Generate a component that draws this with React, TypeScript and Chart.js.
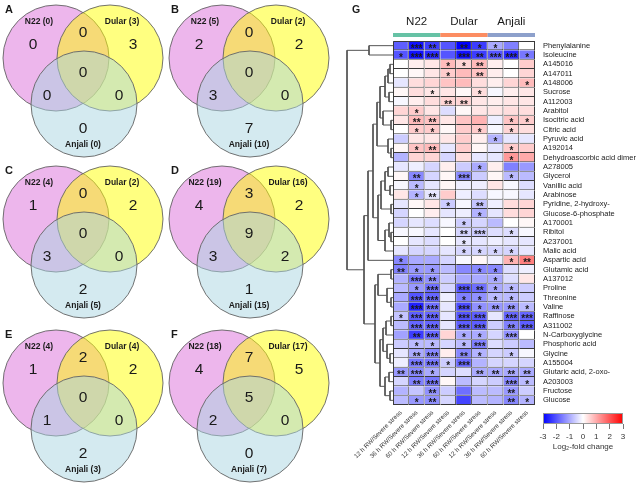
import React, { useEffect, useRef } from 'react';
import { Chart, registerables } from 'chart.js';

Chart.register(...registerables);

const FONT = '"Liberation Sans", Arial, Helvetica, sans-serif';
Chart.defaults.font.family = FONT;

// ---------------- Venn data ----------------
const vennLetters = ['A', 'B', 'C', 'D', 'E', 'F'];
const vennSets = ['N22', 'Dular', 'Anjali'];
const vennTotals = [
  [0, 3, 0],
  [5, 2, 10],
  [4, 2, 5],
  [19, 16, 15],
  [4, 4, 3],
  [18, 17, 7],
];
// regions: N22 only, Dular only, N22∩Dular, all three, N22∩Anjali, Dular∩Anjali, Anjali only
const vennRegions = [
  [0, 3, 0, 0, 0, 0, 0],
  [2, 2, 0, 0, 3, 0, 7],
  [1, 2, 0, 0, 3, 0, 2],
  [4, 2, 3, 9, 3, 2, 1],
  [1, 2, 2, 0, 1, 0, 2],
  [4, 5, 7, 5, 2, 0, 0],
];

// ---------------- Heatmap data ----------------
const genotypes = ['N22', 'Dular', 'Anjali'];
const columns = [
  '12 h RW/Severe stress', '36 h RW/Severe stress', '60 h RW/Severe stress',
  '12 h RW/Severe stress', '36 h RW/Severe stress', '60 h RW/Severe stress',
  '12 h RW/Severe stress', '36 h RW/Severe stress', '60 h RW/Severe stress',
];
const metabolites = [
  'Phenylalanine', 'Isoleucine', 'A145016', 'A147011', 'A148006', 'Sucrose', 'A112003',
  'Arabitol', 'Isocitric acid', 'Citric acid', 'Pyruvic acid', 'A192014',
  'Dehydroascorbic acid dimer', 'A278005', 'Glycerol', 'Vanillic acid', 'Arabinose',
  'Pyridine, 2-hydroxy-', 'Glucose-6-phosphate', 'A170001', 'Ribitol', 'A237001',
  'Malic acid', 'Aspartic acid', 'Glutamic acid', 'A137012', 'Proline', 'Threonine',
  'Valine', 'Raffinose', 'A311002', 'N-Carboxyglycine', 'Phosphoric acid', 'Glycine',
  'A155004', 'Glutaric acid, 2-oxo-', 'A203003', 'Fructose', 'Glucose',
];
const log2fc = [
  [-1.9, -2.8, -2.3, -2.0, -3.0, -2.3, -1.0, -1.5, 0.0],
  [-2.0, -2.8, -2.5, -2.0, -2.8, -2.3, -2.0, -2.5, -1.6],
  [0.0, 0.2, 0.3, 0.8, 0.5, 0.8, 0.2, 0.0, 0.6],
  [0.0, 0.1, 0.3, 0.6, 0.8, 0.7, 0.2, 0.0, 0.5],
  [-0.3, 0.4, 0.5, 0.7, 0.8, 0.4, 0.2, 0.5, 0.8],
  [0.1, 0.4, 0.3, 0.3, 0.1, 0.4, -0.1, 0.2, 0.3],
  [-0.1, 0.2, 0.4, 0.5, 0.5, 0.3, 0.2, 0.3, 0.3],
  [0.5, 0.6, 0.3, -0.4, 0.1, 0.3, 0.3, 0.4, 0.4],
  [0.3, 0.8, 0.7, 0.3, 0.7, 0.9, -0.2, 0.7, 0.6],
  [0.0, 0.6, 0.6, 0.1, 0.6, 0.6, -0.1, 0.5, 0.4],
  [-0.6, 0.3, 0.3, 0.3, 0.6, 0.2, -0.9, -0.3, -0.3],
  [0.1, 0.7, 0.8, -0.3, 0.6, 0.1, -0.3, 0.6, 0.6],
  [-0.9, 0.5, 0.5, -0.5, 0.4, -0.3, -0.3, 1.2, 1.0],
  [-0.3, -0.2, -0.5, 0.2, -0.6, -1.0, 0.2, -1.5, -1.2],
  [0.1, -1.4, -0.5, 0.1, -1.4, -0.6, 0.1, -0.8, -0.8],
  [-0.1, -0.8, -0.3, 0.1, -0.2, -0.2, 0.3, -0.1, -0.4],
  [0.3, -0.9, -0.3, 0.6, -0.2, -0.4, -0.1, -0.1, -0.3],
  [-0.3, 0.1, 0.3, -0.6, -0.1, -0.7, -0.2, 0.4, 0.5],
  [-0.5, 0.0, 0.2, -0.3, -0.2, -0.9, -0.3, 0.4, 0.5],
  [-0.5, -0.3, -0.4, -0.1, -0.6, -0.5, -0.8, 0.0, 0.1],
  [-0.1, -0.1, -0.3, 0.0, -0.5, -0.6, -0.4, -0.4, -0.1],
  [0.0, -0.3, -0.4, 0.0, -0.3, -0.3, -0.2, -0.3, -0.3],
  [-0.3, -0.5, -0.5, -0.3, -0.5, -0.5, -0.5, -0.5, -0.3],
  [-1.4, -1.0, -1.0, -0.5, -0.1, 0.1, -0.2, 0.9, 1.5],
  [-1.5, -1.2, -1.2, -0.8, -1.4, -1.4, -1.4, -0.4, -0.2],
  [-0.9, -1.6, -1.3, -0.6, -1.0, -1.0, -1.0, -0.4, 0.3],
  [-0.8, -1.2, -1.7, -0.5, -2.0, -1.7, -1.0, -0.8, -0.6],
  [-1.0, -2.0, -1.8, -0.2, -1.5, -1.3, -0.8, -0.8, -0.6],
  [-1.0, -2.6, -1.7, -0.3, -2.1, -1.3, -1.2, -1.2, -0.8],
  [-0.7, -1.9, -1.8, -0.3, -2.0, -1.9, -0.3, -1.8, -1.8],
  [-0.8, -1.8, -1.8, -0.3, -1.9, -1.9, -0.6, -1.5, -1.9],
  [-1.1, -2.3, -1.8, 0.5, -1.0, -1.0, -0.5, -1.3, 0.0],
  [-0.6, -0.8, -0.8, -0.5, -0.8, -1.5, -0.4, -0.6, -0.8],
  [-0.3, -1.0, -1.4, 0.2, -1.4, -0.9, -0.5, -0.6, -0.1],
  [-0.2, -1.6, -1.6, -0.6, -1.8, -0.9, -0.5, -0.5, -0.5],
  [-1.2, -1.4, -1.0, -0.5, -0.4, -1.0, -1.0, -1.0, -1.0],
  [-0.5, -1.5, -1.6, 0.1, -0.8, -0.5, -0.6, -1.4, -0.8],
  [-0.9, -0.7, -1.3, -0.6, -1.7, -0.8, -0.8, -1.2, -0.6],
  [-0.8, -1.2, -1.3, -0.5, -2.2, -0.8, -0.9, -1.4, -0.9],
];
const stars = [
  [0, 3, 2, 0, 2, 1, 1, 0, 0],
  [1, 3, 3, 0, 3, 2, 3, 3, 1],
  [0, 0, 0, 1, 1, 2, 0, 0, 0],
  [0, 0, 0, 1, 0, 2, 0, 0, 0],
  [0, 0, 0, 0, 0, 0, 0, 0, 1],
  [0, 0, 1, 0, 0, 1, 0, 0, 0],
  [0, 0, 0, 2, 2, 0, 0, 0, 0],
  [0, 1, 0, 0, 0, 0, 0, 0, 0],
  [0, 2, 2, 0, 0, 0, 0, 1, 1],
  [0, 1, 1, 0, 0, 1, 0, 1, 0],
  [0, 0, 0, 0, 0, 0, 1, 0, 0],
  [0, 1, 2, 0, 0, 0, 0, 1, 0],
  [0, 0, 0, 0, 0, 0, 0, 1, 0],
  [0, 0, 0, 0, 0, 1, 0, 0, 0],
  [0, 2, 0, 0, 3, 0, 0, 1, 0],
  [0, 1, 0, 0, 0, 0, 0, 0, 0],
  [0, 1, 2, 0, 0, 0, 0, 0, 0],
  [0, 0, 0, 1, 0, 2, 0, 0, 0],
  [0, 0, 0, 0, 0, 1, 0, 0, 0],
  [0, 0, 0, 0, 1, 0, 0, 0, 0],
  [0, 0, 0, 0, 2, 3, 0, 1, 0],
  [0, 0, 0, 0, 1, 0, 0, 0, 0],
  [0, 0, 0, 0, 1, 1, 1, 1, 0],
  [1, 0, 0, 0, 0, 0, 0, 1, 2],
  [2, 1, 1, 0, 0, 1, 1, 0, 0],
  [0, 3, 2, 0, 0, 0, 1, 0, 0],
  [0, 1, 3, 0, 3, 2, 1, 1, 0],
  [0, 3, 3, 0, 1, 1, 1, 1, 0],
  [0, 3, 3, 0, 3, 1, 2, 2, 1],
  [1, 3, 3, 0, 3, 3, 0, 3, 3],
  [0, 3, 3, 0, 3, 3, 0, 2, 3],
  [0, 2, 3, 0, 1, 1, 0, 3, 0],
  [0, 1, 1, 0, 1, 3, 0, 0, 0],
  [0, 2, 3, 0, 2, 1, 0, 1, 0],
  [0, 3, 3, 1, 3, 0, 0, 0, 0],
  [2, 3, 1, 0, 0, 2, 2, 2, 2],
  [0, 2, 3, 0, 0, 0, 0, 3, 1],
  [0, 0, 2, 0, 0, 0, 0, 2, 0],
  [0, 1, 2, 0, 0, 0, 0, 2, 1],
];
// dendrogram merges: [childA, childB, height]; ids >= 39 refer to earlier merges (39 + k)
const merges = [
  [0, 1, 24], [2, 3, 3], [40, 4, 5], [5, 6, 4], [41, 42, 8], [8, 9, 2], [7, 44, 10],
  [43, 45, 13], [11, 12, 2], [10, 47, 5], [46, 48, 16], [13, 14, 5], [15, 16, 3],
  [50, 51, 8], [17, 18, 2], [52, 53, 12], [20, 21, 2], [19, 55, 4], [56, 22, 8],
  [54, 57, 15], [49, 58, 20], [59, 23, 25], [24, 25, 2], [27, 28, 2], [26, 62, 6],
  [61, 63, 15], [29, 30, 2], [65, 31, 7], [33, 34, 3], [32, 67, 6], [66, 68, 10],
  [35, 36, 4], [37, 38, 3], [70, 71, 8], [69, 72, 13], [64, 73, 18], [60, 74, 29],
  [39, 75, 46],
];
const colorbarTicks = [-3, -2, -1, 0, 1, 2, 3];

// ---------------- layout / style constants ----------------
const VENN_W = 166;
const VENN_H = 160;
const VENN_R = 53;
const vennOrigins = [[0, 0], [166, 0], [0, 161], [166, 161], [0, 325], [166, 325]];
const circleCenters = [[56, 58], [110, 58], [84, 104]];
const circleFill = ['rgba(220,110,218,0.5)', 'rgba(255,255,1,0.5)', 'rgba(169,213,225,0.5)'];
const setLabelPos = [[39, 22], [122, 22], [83, 145]];
const regionPos = [[33, 44], [133, 44], [83, 32], [83, 72], [47, 95], [119, 95], [83, 128]];
const groupColors = ['#66C2A5', '#FC8D62', '#8DA0CB'];

function fcColor(v: number): string {
  const t = Math.min(1, Math.abs(v) / 3);
  const c = Math.round(255 * (1 - t));
  return v < 0 ? `rgb(${c},${c},255)` : `rgb(255,${c},${c})`;
}

const baseOpts = {
  animation: false as const,
  responsive: false,
  events: [] as any[],
  plugins: { legend: { display: false }, tooltip: { enabled: false } },
};

function VennPanel({ index }: { index: number }) {
  const ref = useRef<HTMLCanvasElement | null>(null);
  useEffect(() => {
    const totals = vennTotals[index];
    const regions = vennRegions[index];
    const textPlugin = {
      id: 'vennText',
      afterDatasetsDraw(chart: any) {
        const { ctx } = chart;
        const px = (v: number) => chart.scales.x.getPixelForValue(v);
        const py = (v: number) => chart.scales.y.getPixelForValue(v);
        ctx.save();
        ctx.fillStyle = '#1a1a1a';
        ctx.textBaseline = 'middle';
        ctx.textAlign = 'left';
        ctx.font = `bold 11px ${FONT}`;
        ctx.fillText(vennLetters[index], px(5), py(10));
        ctx.textAlign = 'center';
        ctx.font = `bold 8.5px ${FONT}`;
        vennSets.forEach((s, k) => ctx.fillText(`${s} (${totals[k]})`, px(setLabelPos[k][0]), py(setLabelPos[k][1])));
        ctx.font = `15.5px ${FONT}`;
        regions.forEach((n, k) => ctx.fillText(String(n), px(regionPos[k][0]), py(regionPos[k][1]) + 1));
        ctx.restore();
      },
    };
    const chart = new Chart(ref.current as HTMLCanvasElement, {
      type: 'bubble',
      data: {
        datasets: [{
          data: circleCenters.map(([x, y]) => ({ x, y, r: VENN_R })),
          backgroundColor: circleFill,
          borderColor: 'rgba(100,100,100,0.9)',
          borderWidth: 1,
          hoverRadius: 0,
          clip: false,
        } as any],
      },
      options: {
        ...baseOpts,
        layout: { padding: 0, autoPadding: false },
        scales: {
          x: { type: 'linear', min: 0, max: VENN_W, display: false },
          y: { type: 'linear', min: 0, max: VENN_H, reverse: true, display: false },
        },
      } as any,
      plugins: [textPlugin],
    });
    return () => chart.destroy();
  }, [index]);
  const [left, top] = vennOrigins[index];
  return (
    <canvas ref={ref} width={VENN_W} height={VENN_H}
      style={{ position: 'absolute', left, top, width: VENN_W, height: VENN_H }} />
  );
}

function Heatmap() {
  const ref = useRef<HTMLCanvasElement | null>(null);
  useEffect(() => {
    const datasets = columns.map((col, c) => ({
      label: col,
      data: metabolites.map(() => [c, c + 1]),
      backgroundColor: metabolites.map((_, r) => fcColor(log2fc[r][c])),
      borderColor: '#3a3a3a',
      borderWidth: { top: 0, left: 0, right: 1, bottom: 1 },
      borderSkipped: false,
      grouped: false,
      barPercentage: 1,
      categoryPercentage: 1,
      inflateAmount: 0,
    }));
    const plugin = {
      id: 'heatExtras',
      afterDatasetsDraw(chart: any) {
        const { ctx, chartArea } = chart;
        const xs = chart.scales.x;
        const ys = chart.scales.y;
        ctx.save();
        ctx.strokeStyle = '#3a3a3a';
        ctx.lineWidth = 1;
        ctx.beginPath();
        ctx.moveTo(chartArea.left + 0.5, chartArea.bottom);
        ctx.lineTo(chartArea.left + 0.5, chartArea.top + 0.5);
        ctx.lineTo(chartArea.right, chartArea.top + 0.5);
        ctx.stroke();
        ctx.fillStyle = '#1a1a1a';
        ctx.textAlign = 'center';
        ctx.textBaseline = 'alphabetic';
        ctx.font = `bold 10px ${FONT}`;
        stars.forEach((row, r) => {
          row.forEach((n, c) => {
            if (n > 0) {
              const x = xs.getPixelForValue(c + 0.5);
              const y = ys.getPixelForValue(r);
              ctx.fillText('*'.repeat(n), x, y + 6);
            }
          });
        });
        genotypes.forEach((g, k) => {
          const x0 = xs.getPixelForValue(k * 3);
          const x1 = xs.getPixelForValue(k * 3 + 3);
          ctx.fillStyle = groupColors[k];
          ctx.fillRect(x0, 33, x1 - x0, 4);
          ctx.fillStyle = '#1a1a1a';
          ctx.font = `11.5px ${FONT}`;
          ctx.textBaseline = 'middle';
          ctx.fillText(g, (x0 + x1) / 2, 22);
        });
        ctx.textAlign = 'left';
        ctx.font = `bold 10.5px ${FONT}`;
        ctx.fillText('G', 22, 10);
        ctx.restore();
      },
    };
    const chart = new Chart(ref.current as HTMLCanvasElement, {
      type: 'bar',
      data: { labels: metabolites, datasets: datasets as any },
      options: {
        ...baseOpts,
        indexAxis: 'y',
        layout: { padding: { left: 63, top: 41, right: 0, bottom: 0 } },
        scales: {
          x: {
            type: 'linear', min: 0, max: 9, position: 'bottom',
            afterBuildTicks: (s: any) => { s.ticks = columns.map((_, i) => ({ value: i + 0.5 })); },
            afterFit: (s: any) => { s.height = 82; s.paddingLeft = 0; s.paddingRight = 0; },
            grid: { display: false, drawTicks: false },
            border: { display: false },
            ticks: {
              autoSkip: false, maxRotation: 45, minRotation: 45, padding: 4,
              font: { size: 6.3, family: FONT }, color: '#333',
              callback: (_v: any, i: number) => columns[i],
            },
          },
          y: {
            type: 'category', position: 'right', offset: true,
            afterFit: (s: any) => { s.width = 107; s.paddingTop = 0; s.paddingBottom = 0; },
            grid: { display: false, drawTicks: false },
            border: { display: false },
            ticks: { autoSkip: false, padding: 8, font: { size: 7.5, family: FONT }, color: '#222' },
          },
        },
      } as any,
      plugins: [plugin],
    });
    return () => chart.destroy();
  }, []);
  return (
    <canvas ref={ref} width={312} height={487}
      style={{ position: 'absolute', left: 330, top: 0, width: 312, height: 487 }} />
  );
}

function Dendrogram() {
  const ref = useRef<HTMLCanvasElement | null>(null);
  useEffect(() => {
    const nodeY: number[] = metabolites.map((_, i) => i + 0.5);
    const nodeH: number[] = metabolites.map(() => 0);
    const links = merges.map(([a, b, h]) => {
      const ya = nodeY[a];
      const yb = nodeY[b];
      const pts = [
        { x: nodeH[a], y: ya }, { x: h, y: ya }, { x: h, y: yb }, { x: nodeH[b], y: yb },
      ];
      nodeY.push((ya + yb) / 2);
      nodeH.push(h);
      return pts;
    });
    const chart = new Chart(ref.current as HTMLCanvasElement, {
      type: 'scatter',
      data: {
        datasets: links.map((pts) => ({
          data: pts,
          showLine: true,
          borderColor: '#555',
          borderWidth: 1,
          pointRadius: 0,
          tension: 0,
          clip: false,
        })) as any,
      },
      options: {
        ...baseOpts,
        layout: { padding: 0, autoPadding: false },
        scales: {
          x: { type: 'linear', min: 0, max: 63, reverse: true, display: false },
          y: { type: 'linear', min: 0, max: metabolites.length, reverse: true, display: false },
        },
      } as any,
    });
    return () => chart.destroy();
  }, []);
  return (
    <canvas ref={ref} width={63} height={364}
      style={{ position: 'absolute', left: 330, top: 41, width: 63, height: 364 }} />
  );
}

function ColorBar() {
  const ref = useRef<HTMLCanvasElement | null>(null);
  useEffect(() => {
    const chart = new Chart(ref.current as HTMLCanvasElement, {
      type: 'bar',
      data: {
        labels: [''],
        datasets: [{
          data: [[colorbarTicks[0], colorbarTicks[colorbarTicks.length - 1]]],
          backgroundColor: (ctx: any) => {
            const ch = ctx.chart;
            const ca = ch.chartArea;
            if (!ca) return '#fff';
            const xs = ch.scales.x;
            const g = ch.ctx.createLinearGradient(xs.getPixelForValue(-3), 0, xs.getPixelForValue(3), 0);
            g.addColorStop(0, 'rgb(0,0,255)');
            g.addColorStop(0.5, 'rgb(255,255,255)');
            g.addColorStop(1, 'rgb(255,0,0)');
            return g;
          },
          borderColor: '#999',
          borderWidth: 1,
          borderSkipped: false,
          barPercentage: 1,
          categoryPercentage: 1,
          inflateAmount: 0,
        } as any],
      },
      options: {
        ...baseOpts,
        indexAxis: 'y',
        layout: { padding: { left: 13, right: 19, top: 8, bottom: 0 } },
        scales: {
          x: {
            type: 'linear', min: -3, max: 3,
            afterBuildTicks: (s: any) => { s.ticks = colorbarTicks.map((v) => ({ value: v })); },
            afterFit: (s: any) => { s.height = 28; s.paddingLeft = 0; s.paddingRight = 0; },
            grid: { display: true, drawOnChartArea: false, drawTicks: true, tickLength: 5, color: '#777' },
            border: { display: false },
            ticks: { padding: 3, font: { size: 8, family: FONT }, color: '#333', maxRotation: 0 },
            title: { display: true, text: 'Log₂-fold change', font: { size: 8, family: FONT }, color: '#333', padding: 0 },
          },
          y: { display: false },
        },
      } as any,
    });
    return () => chart.destroy();
  }, []);
  return (
    <canvas ref={ref} width={112} height={47}
      style={{ position: 'absolute', left: 530, top: 405, width: 112, height: 47 }} />
  );
}

export default function App() {
  return (
    <div style={{ position: 'fixed', left: 0, top: 0, width: 642, height: 487, background: '#fff', overflow: 'hidden' }}>
      {vennLetters.map((_, i) => <VennPanel key={i} index={i} />)}
      <Heatmap />
      <Dendrogram />
      <ColorBar />
    </div>
  );
}
